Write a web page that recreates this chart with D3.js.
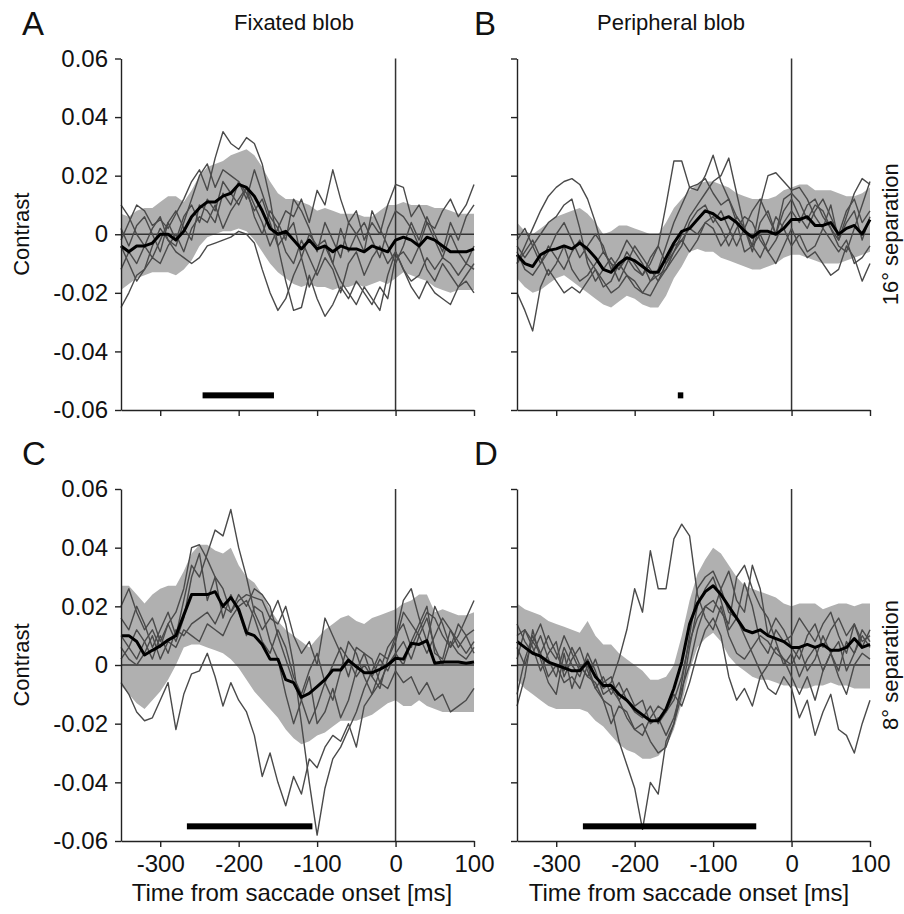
<!DOCTYPE html>
<html><head><meta charset="utf-8">
<script src="https://cdn.jsdelivr.net/npm/d3@7"></script>
<style>
body{margin:0;background:#fff}
svg{display:block}
text{font-family:"Liberation Sans",Arial,Helvetica,sans-serif;fill:#111}
</style>
</head><body>
<svg id="chart" width="904" height="914"></svg>
<script>
// ---------- data ----------
const time = [-350,-340,-330,-320,-310,-300,-290,-280,-270,-260,-250,-240,-230,-220,-210,-200,-190,-180,-170,-160,-150,-140,-130,-120,-110,-100,-90,-80,-70,-60,-50,-40,-30,-20,-10,0,10,20,30,40,50,60,70,80,90,100];
const xTicks = [-300,-200,-100,0,100];
const yTicks = [-0.06,-0.04,-0.02,0,0.02,0.04,0.06];
const panelLetters = ["A","B","C","D"];
const columnTitles = ["Fixated blob","Peripheral blob"];
const rowLabels = ["16° separation","8° separation"];
const xTitle = "Time from saccade onset [ms]";
const yTitle = "Contrast";
const sigBars = [[-246,-155],[-145,-138],[-266,-106],[-266,-45]];

// Panel A
const meanA = [-0.004,-0.006,-0.004,-0.004,-0.003,0.000,0.000,-0.002,0.001,0.006,0.009,0.011,0.011,0.013,0.014,0.017,0.016,0.013,0.008,0.002,0.000,0.001,-0.002,-0.005,-0.002,-0.005,-0.004,-0.006,-0.004,-0.005,-0.005,-0.006,-0.004,-0.005,-0.006,-0.002,-0.001,-0.002,-0.004,-0.001,-0.002,-0.004,-0.006,-0.006,-0.006,-0.005];
const upperA = [0.007,0.006,0.008,0.009,0.009,0.011,0.013,0.013,0.011,0.015,0.020,0.023,0.024,0.025,0.027,0.028,0.029,0.027,0.023,0.018,0.014,0.012,0.012,0.011,0.010,0.008,0.009,0.008,0.007,0.007,0.007,0.006,0.006,0.008,0.010,0.010,0.011,0.010,0.010,0.010,0.009,0.009,0.008,0.007,0.007,0.007];
const lowerA = [-0.019,-0.017,-0.015,-0.014,-0.013,-0.013,-0.013,-0.014,-0.012,-0.009,-0.004,-0.001,0.000,0.001,0.001,0.002,0.001,-0.002,-0.006,-0.010,-0.013,-0.015,-0.017,-0.018,-0.017,-0.018,-0.018,-0.019,-0.018,-0.018,-0.017,-0.018,-0.017,-0.016,-0.017,-0.015,-0.013,-0.014,-0.015,-0.016,-0.018,-0.019,-0.020,-0.019,-0.019,-0.019];
const subjA1 = [-0.002,0.004,0.010,0.008,0.003,0.005,0.002,0.007,0.012,0.018,0.022,0.015,0.026,0.035,0.031,0.029,0.033,0.031,0.024,0.012,-0.004,-0.016,-0.026,-0.025,-0.014,-0.022,-0.028,-0.024,-0.018,-0.022,-0.016,-0.020,-0.024,-0.018,-0.022,-0.008,-0.006,-0.010,-0.004,-0.012,-0.016,-0.010,-0.014,-0.018,-0.016,-0.020];
const subjA2 = [0.010,0.006,0.000,-0.004,0.002,0.006,-0.002,-0.004,0.004,0.012,0.020,0.024,0.016,0.022,0.020,0.018,0.012,0.022,0.014,0.006,0.002,0.008,0.006,0.012,0.004,0.015,0.010,0.022,0.012,0.004,0.008,-0.002,0.004,0.000,0.010,0.017,0.016,0.006,0.010,0.004,0.002,0.008,0.012,0.006,0.010,0.017];
const subjA3 = [-0.025,-0.020,-0.014,-0.012,-0.008,-0.010,-0.004,0.000,-0.006,0.002,0.006,0.004,0.010,0.002,0.008,0.012,0.016,0.010,0.004,-0.004,0.002,-0.006,-0.010,-0.002,-0.008,-0.014,-0.008,-0.012,-0.020,-0.010,-0.006,-0.014,-0.008,-0.004,-0.010,-0.006,-0.012,-0.016,-0.014,-0.008,-0.012,-0.008,-0.010,-0.014,-0.010,-0.012];
const subjA4 = [-0.004,-0.010,-0.016,-0.012,-0.004,0.002,-0.002,-0.006,-0.008,-0.010,-0.008,-0.004,-0.003,-0.002,-0.001,0.001,0.000,-0.003,-0.012,-0.020,-0.026,-0.022,-0.014,-0.008,-0.018,-0.012,-0.004,-0.010,-0.016,-0.020,-0.024,-0.018,-0.022,-0.026,-0.014,-0.006,-0.012,-0.018,-0.022,-0.016,-0.020,-0.022,-0.024,-0.018,-0.014,-0.010];
const subjA5 = [0.002,-0.004,0.003,0.006,0.000,-0.006,0.004,0.008,0.002,-0.002,0.010,0.008,0.004,0.014,0.010,0.018,0.014,0.008,0.012,0.004,-0.004,0.000,0.004,-0.008,0.000,-0.004,-0.002,-0.010,0.002,-0.006,0.000,0.004,-0.002,-0.008,0.002,0.008,0.006,0.002,-0.004,0.004,-0.002,-0.008,0.000,-0.006,-0.010,-0.004];
const subjA6 = [-0.012,-0.006,-0.010,-0.004,-0.008,-0.002,0.004,-0.002,0.006,0.010,0.004,0.012,0.008,0.018,0.014,0.010,0.016,0.006,0.000,0.008,0.004,-0.002,0.012,0.008,0.002,-0.006,0.004,-0.002,-0.008,0.004,0.000,-0.006,0.008,0.002,-0.004,-0.010,-0.004,0.004,-0.002,0.006,0.000,-0.006,0.004,-0.002,0.006,0.010];

// Panel B
const meanB = [-0.007,-0.010,-0.011,-0.007,-0.0055,-0.005,-0.004,-0.005,-0.003,-0.005,-0.008,-0.012,-0.013,-0.010,-0.008,-0.009,-0.011,-0.013,-0.013,-0.008,-0.003,0.001,0.002,0.005,0.008,0.007,0.005,0.006,0.004,0.001,-0.001,0.001,0.001,0.000,0.002,0.005,0.005,0.006,0.003,0.003,0.004,0.000,0.002,0.003,0.000,0.005];
const upperB = [0.004,0.001,0.000,0.002,0.004,0.006,0.007,0.008,0.009,0.007,0.004,0.000,0.001,0.003,0.003,0.002,0.001,0.000,0.000,0.004,0.009,0.012,0.015,0.017,0.018,0.018,0.017,0.016,0.014,0.013,0.012,0.012,0.012,0.013,0.015,0.016,0.017,0.017,0.015,0.015,0.015,0.014,0.013,0.013,0.014,0.016];
const lowerB = [-0.015,-0.018,-0.020,-0.019,-0.017,-0.015,-0.014,-0.016,-0.018,-0.020,-0.022,-0.024,-0.025,-0.023,-0.021,-0.022,-0.024,-0.025,-0.025,-0.021,-0.015,-0.011,-0.006,-0.005,-0.006,-0.006,-0.008,-0.009,-0.010,-0.011,-0.012,-0.012,-0.011,-0.010,-0.008,-0.007,-0.007,-0.008,-0.009,-0.010,-0.010,-0.010,-0.009,-0.008,-0.007,-0.006];
const subjB1 = [-0.010,-0.004,0.002,0.008,0.013,0.016,0.018,0.019,0.017,0.012,0.004,-0.006,-0.010,-0.012,-0.008,-0.012,-0.014,-0.010,-0.004,0.010,0.025,0.025,0.016,0.017,0.019,0.014,0.010,0.012,0.004,-0.006,-0.004,0.010,0.020,0.021,0.018,0.015,0.016,0.012,0.006,0.002,0.010,-0.002,0.006,0.014,0.019,0.017];
const subjB2 = [-0.020,-0.026,-0.033,-0.018,-0.012,-0.016,-0.020,-0.018,-0.020,-0.016,-0.012,-0.018,-0.016,-0.010,-0.014,-0.018,-0.020,-0.016,-0.012,-0.004,0.004,0.010,0.016,0.015,0.020,0.027,0.018,0.012,0.006,0.002,-0.004,0.000,-0.006,-0.002,0.004,0.008,0.004,0.010,0.012,0.006,0.002,-0.002,0.004,0.008,-0.002,0.006];
const subjB3 = [-0.004,-0.008,-0.004,0.000,0.004,0.006,0.010,0.012,0.002,-0.010,-0.016,-0.012,-0.008,-0.012,-0.006,-0.010,-0.014,-0.008,-0.004,-0.010,-0.006,0.000,0.006,0.010,0.014,0.018,0.020,0.026,0.014,0.002,-0.006,0.004,0.008,0.000,0.012,0.014,0.011,0.005,0.010,0.008,0.002,-0.004,-0.006,0.002,0.010,0.018];
const subjB4 = [-0.006,-0.012,-0.014,-0.010,-0.004,-0.008,-0.012,-0.006,-0.002,-0.008,-0.012,-0.016,-0.020,-0.018,-0.014,-0.016,-0.020,-0.021,-0.016,-0.010,-0.004,-0.002,0.002,0.000,0.004,0.006,0.002,-0.004,0.002,0.006,0.004,-0.002,-0.006,-0.010,-0.004,0.002,-0.004,-0.008,-0.006,-0.010,-0.014,-0.012,-0.004,-0.008,-0.016,-0.010];
const subjB5 = [-0.010,-0.006,-0.002,-0.008,-0.014,-0.010,-0.004,-0.012,-0.016,-0.014,-0.010,-0.006,-0.010,-0.016,-0.010,-0.004,-0.008,-0.012,-0.016,-0.012,-0.006,-0.002,-0.006,-0.002,0.004,0.002,-0.004,0.000,0.006,0.002,-0.004,-0.008,-0.002,0.006,0.002,-0.004,0.000,-0.006,-0.004,0.002,-0.002,-0.006,-0.002,-0.010,-0.008,-0.004];
const subjB6 = [-0.002,0.002,-0.004,-0.010,-0.006,0.000,0.004,-0.002,-0.008,-0.004,0.000,-0.004,-0.012,-0.008,-0.002,-0.006,-0.010,-0.016,-0.014,-0.012,-0.008,-0.004,0.004,0.008,0.010,0.004,0.008,0.002,-0.004,0.002,0.008,0.012,0.006,0.000,0.008,0.012,0.006,0.002,0.008,0.012,0.006,0.000,0.008,0.012,0.004,0.008];

// Panel C
const meanC = [0.010,0.010,0.008,0.0034,0.005,0.0065,0.0085,0.010,0.017,0.024,0.024,0.024,0.025,0.020,0.023,0.019,0.011,0.010,0.007,0.002,0.002,-0.005,-0.006,-0.011,-0.0097,-0.0074,-0.005,-0.0017,-0.0017,0.0017,-0.0006,-0.0026,-0.0026,-0.0015,0.000,0.0023,0.002,0.0074,0.007,0.0083,0.0006,0.001,0.001,0.001,0.0006,0.001];
const upperC = [0.027,0.027,0.024,0.021,0.024,0.026,0.027,0.027,0.032,0.038,0.041,0.041,0.039,0.038,0.040,0.034,0.030,0.028,0.024,0.019,0.015,0.012,0.010,0.008,0.006,0.009,0.012,0.014,0.016,0.017,0.015,0.014,0.016,0.017,0.018,0.019,0.021,0.022,0.024,0.024,0.018,0.019,0.018,0.017,0.017,0.018];
const lowerC = [-0.007,-0.010,-0.013,-0.015,-0.012,-0.009,-0.005,0.000,0.006,0.007,0.007,0.006,0.005,0.004,0.002,-0.001,-0.005,-0.009,-0.012,-0.015,-0.018,-0.022,-0.025,-0.027,-0.026,-0.024,-0.023,-0.021,-0.019,-0.019,-0.019,-0.018,-0.017,-0.015,-0.013,-0.012,-0.014,-0.014,-0.012,-0.014,-0.015,-0.016,-0.016,-0.016,-0.016,-0.016];
const subjC1 = [0.016,0.012,0.020,0.014,0.006,0.012,0.018,0.010,0.022,0.034,0.030,0.038,0.046,0.044,0.053,0.040,0.030,0.018,0.012,0.016,0.022,0.014,0.000,-0.020,-0.040,-0.058,-0.042,-0.032,-0.028,-0.022,-0.016,-0.008,-0.002,0.004,0.002,0.008,0.018,0.014,0.010,0.004,0.010,0.016,0.012,0.006,0.010,0.012];
const subjC2 = [-0.006,-0.010,-0.016,-0.019,-0.018,-0.012,-0.006,-0.022,-0.010,-0.003,-0.002,0.004,-0.004,-0.014,-0.006,-0.012,-0.016,-0.024,-0.038,-0.030,-0.040,-0.048,-0.038,-0.044,-0.032,-0.035,-0.028,-0.024,-0.026,-0.020,-0.028,-0.014,-0.010,-0.006,-0.008,-0.002,-0.006,-0.004,-0.010,-0.006,-0.012,-0.010,-0.016,-0.014,-0.012,-0.008];
const subjC3 = [0.020,0.026,0.018,0.012,0.016,0.008,0.014,0.018,0.026,0.040,0.041,0.036,0.030,0.026,0.018,0.024,0.020,0.026,0.024,0.020,0.010,0.002,-0.006,-0.012,-0.020,-0.014,-0.006,-0.012,-0.002,0.008,0.004,-0.004,-0.010,-0.002,0.006,0.010,0.022,0.026,0.016,0.008,0.020,0.014,0.006,0.010,0.016,0.022];
const subjC4 = [0.010,0.006,0.002,0.008,0.012,0.006,0.014,0.008,0.016,0.030,0.038,0.022,0.030,0.016,0.024,0.018,0.010,0.020,0.018,0.008,0.002,-0.010,-0.020,-0.012,-0.004,-0.020,-0.016,-0.008,-0.018,-0.012,-0.002,0.004,0.002,-0.006,0.000,0.004,0.008,0.002,0.010,0.016,0.006,0.000,0.008,0.004,0.002,0.006];
const subjC5 = [0.002,0.006,0.012,0.008,0.002,0.010,0.004,0.012,0.010,0.014,0.016,0.018,0.014,0.020,0.018,0.022,0.024,0.023,0.022,0.016,0.014,0.020,0.010,0.004,0.008,0.000,0.016,0.010,0.004,-0.004,0.006,0.004,-0.004,0.002,-0.002,0.004,0.000,0.008,0.014,0.020,0.004,0.002,0.012,0.008,0.004,0.008];
const subjC6 = [0.006,0.002,0.000,0.004,0.010,0.002,0.008,0.006,0.012,0.010,0.008,0.014,0.012,0.010,0.016,0.020,0.022,0.016,0.008,0.004,0.012,0.006,-0.004,-0.010,-0.002,0.004,-0.006,0.000,0.006,0.002,-0.004,0.000,-0.004,-0.008,0.002,0.010,0.014,0.006,0.012,0.018,0.016,0.010,0.006,0.014,0.010,0.004];

// Panel D
const meanD = [0.008,0.006,0.004,0.003,0.001,0.000,-0.001,-0.002,-0.002,0.001,-0.004,-0.007,-0.007,-0.010,-0.012,-0.015,-0.017,-0.019,-0.019,-0.015,-0.008,0.001,0.014,0.021,0.025,0.027,0.024,0.020,0.016,0.012,0.011,0.012,0.010,0.009,0.008,0.006,0.006,0.007,0.006,0.007,0.005,0.005,0.006,0.009,0.006,0.007];
const upperD = [0.021,0.019,0.018,0.017,0.015,0.014,0.013,0.012,0.011,0.015,0.010,0.007,0.007,0.004,0.002,0.000,-0.002,-0.005,-0.005,-0.004,0.000,0.010,0.022,0.031,0.036,0.040,0.038,0.034,0.030,0.027,0.026,0.025,0.024,0.023,0.021,0.020,0.021,0.021,0.021,0.019,0.020,0.021,0.021,0.020,0.021,0.021];
const lowerD = [-0.005,-0.008,-0.010,-0.012,-0.014,-0.015,-0.015,-0.015,-0.015,-0.016,-0.019,-0.021,-0.024,-0.027,-0.029,-0.030,-0.032,-0.032,-0.031,-0.028,-0.022,-0.013,-0.002,0.006,0.009,0.011,0.008,0.003,0.000,-0.002,-0.004,-0.005,-0.005,-0.006,-0.007,-0.007,-0.008,-0.008,-0.007,-0.007,-0.006,-0.007,-0.007,-0.008,-0.008,-0.008];
const subjD1 = [0.010,0.012,0.008,0.014,0.006,0.002,0.010,0.004,-0.002,0.002,-0.004,-0.008,-0.006,0.002,0.012,0.026,0.018,0.039,0.026,0.026,0.043,0.048,0.044,0.024,0.016,0.012,0.020,0.010,0.004,0.002,0.006,0.010,0.008,0.004,0.002,-0.004,-0.010,-0.004,-0.012,-0.002,0.004,-0.004,-0.010,0.000,0.004,0.002];
const subjD2 = [-0.010,0.002,0.010,0.004,-0.004,0.000,-0.006,-0.004,-0.008,0.000,-0.008,-0.012,-0.014,-0.026,-0.034,-0.042,-0.056,-0.040,-0.044,-0.026,-0.020,-0.006,0.010,0.026,0.030,0.032,0.026,0.018,0.016,0.010,0.004,-0.002,-0.008,-0.010,-0.004,-0.008,-0.018,-0.012,-0.024,-0.016,-0.010,-0.022,-0.024,-0.030,-0.020,-0.012];
const subjD3 = [0.014,0.008,0.004,0.010,0.002,-0.004,0.006,0.000,-0.004,0.004,-0.002,-0.010,-0.008,-0.012,-0.018,-0.022,-0.020,-0.026,-0.030,-0.028,-0.020,-0.010,0.006,0.020,0.026,0.030,0.022,0.012,0.016,0.028,0.020,0.008,0.004,0.012,0.008,0.010,0.016,0.012,0.008,0.014,0.018,0.010,0.004,0.014,0.006,0.012];
const subjD4 = [0.002,0.012,0.006,-0.002,0.004,0.008,-0.004,0.002,0.006,-0.002,-0.008,-0.004,-0.010,-0.006,-0.012,-0.016,-0.018,-0.014,-0.020,-0.016,-0.012,-0.004,0.008,0.016,0.020,0.022,0.018,0.014,0.030,0.034,0.026,0.020,0.016,0.008,0.000,0.004,-0.004,0.002,0.006,-0.002,0.004,0.008,-0.002,0.004,0.010,0.006];
const subjD5 = [0.006,0.000,0.008,0.004,0.010,0.004,-0.002,0.006,0.000,-0.004,0.002,-0.006,-0.004,-0.012,-0.008,-0.014,-0.012,-0.020,-0.018,-0.024,-0.018,-0.008,0.000,0.012,0.020,0.018,0.026,0.032,0.022,0.018,0.034,0.026,0.010,0.016,0.012,0.006,0.002,0.010,0.014,0.006,0.012,0.016,0.010,0.014,0.008,0.010];
const subjD6 = [-0.014,-0.004,0.012,0.002,-0.006,-0.010,0.004,-0.008,0.000,-0.004,-0.006,-0.012,-0.020,-0.014,-0.016,-0.022,-0.024,-0.018,-0.014,-0.016,-0.010,-0.014,-0.006,0.004,0.012,0.016,0.010,-0.004,-0.012,-0.008,-0.014,-0.004,0.000,0.006,0.002,0.000,0.006,-0.002,0.002,0.010,0.004,-0.002,0.008,0.004,0.012,0.008];

// ---------- drawing ----------
const panels = [
  {mean: meanA, upper: upperA, lower: lowerA, subj: [subjA1,subjA2,subjA3,subjA4,subjA5,subjA6]},
  {mean: meanB, upper: upperB, lower: lowerB, subj: [subjB1,subjB2,subjB3,subjB4,subjB5,subjB6]},
  {mean: meanC, upper: upperC, lower: lowerC, subj: [subjC1,subjC2,subjC3,subjC4,subjC5,subjC6]},
  {mean: meanD, upper: upperD, lower: lowerD, subj: [subjD1,subjD2,subjD3,subjD4,subjD5,subjD6]}
];

const svg = d3.select("#chart");
const colX = [[121, 474], [517, 870]];
const rowY = [[410, 58.5], [841, 489]];
const titleX = [294, 671];
const xTitleX = [292, 689];
const letterX = [22, 474];
const fmtY = d => d === 0 ? "0" : (d < 0 ? "-" : "") + Math.abs(d).toFixed(2);

panels.forEach((p, i) => {
  const col = i % 2, row = Math.floor(i / 2);
  const x = d3.scaleLinear().domain([-350, 100]).range(colX[col]);
  const y = d3.scaleLinear().domain([-0.06, 0.06]).range(rowY[row]);
  const g = svg.append("g");

  // band
  const area = d3.area().x((d, k) => x(time[k])).y0((d, k) => y(p.lower[k])).y1((d, k) => y(p.upper[k]));
  g.append("path").datum(p.mean).attr("d", area).attr("fill", "#b0b0b0").attr("stroke", "none");

  // zero reference lines
  g.append("line").attr("x1", x(-350)).attr("x2", x(100)).attr("y1", y(0)).attr("y2", y(0))
    .attr("stroke", "#333").attr("stroke-width", 1.5);
  g.append("line").attr("x1", x(0)).attr("x2", x(0)).attr("y1", y(-0.06)).attr("y2", y(0.06))
    .attr("stroke", "#333").attr("stroke-width", 1.5);

  // subjects
  const line = d3.line().x((d, k) => x(time[k])).y(d => y(d));
  p.subj.forEach(s => {
    g.append("path").datum(s).attr("d", line).attr("fill", "none")
      .attr("stroke", "#4a4a4a").attr("stroke-width", 1.4).attr("stroke-linejoin", "round");
  });
  // mean
  g.append("path").datum(p.mean).attr("d", line).attr("fill", "none")
    .attr("stroke", "#000").attr("stroke-width", 3).attr("stroke-linejoin", "round");

  // significance bar
  const b = sigBars[i];
  g.append("rect").attr("x", x(b[0])).attr("width", x(b[1]) - x(b[0]))
    .attr("y", y(-0.055) - 3).attr("height", 6).attr("fill", "#000");

  // axes
  const ya = g.append("g").attr("transform", `translate(${colX[col][0]},0)`)
    .call(d3.axisLeft(y).tickValues(yTicks).tickSize(6).tickSizeOuter(0)
      .tickFormat(col === 0 ? fmtY : () => ""));
  const xa = g.append("g").attr("transform", `translate(0,${rowY[row][0]})`)
    .call(d3.axisBottom(x).tickValues(xTicks).tickSize(6).tickSizeOuter(0)
      .tickFormat(row === 1 ? d3.format("d") : () => ""));
  [ya, xa].forEach(a => {
    a.select(".domain").attr("stroke", "#222").attr("stroke-width", 1.4);
    a.selectAll(".tick line").attr("stroke", "#222").attr("stroke-width", 1.4);
    a.selectAll("text").attr("font-size", 24).attr("fill", "#111")
      .attr("font-family", "'Liberation Sans', Arial, sans-serif");
  });
  ya.selectAll("text").attr("x", -13);
  xa.selectAll("text").attr("y", 14).text(d => row === 1 ? String(d) : "");

  // panel letter
  svg.append("text").attr("x", letterX[col]).attr("y", rowY[row][1] - 24)
    .attr("font-size", 33).text(panelLetters[i]);

  if (col === 0) {
    svg.append("text").attr("transform", `translate(29,${y(0)}) rotate(-90)`)
      .attr("text-anchor", "middle").attr("font-size", 22).text(yTitle);
  } else {
    svg.append("text").attr("transform", `translate(898,${y(0)}) rotate(-90)`)
      .attr("text-anchor", "middle").attr("font-size", 22).text(rowLabels[row]);
  }
  if (row === 0) {
    svg.append("text").attr("x", titleX[col]).attr("y", 30)
      .attr("text-anchor", "middle").attr("font-size", 22).text(columnTitles[col]);
  } else {
    svg.append("text").attr("x", xTitleX[col]).attr("y", 901)
      .attr("text-anchor", "middle").attr("font-size", 24).text(xTitle);
  }
});
</script>
</body></html>
